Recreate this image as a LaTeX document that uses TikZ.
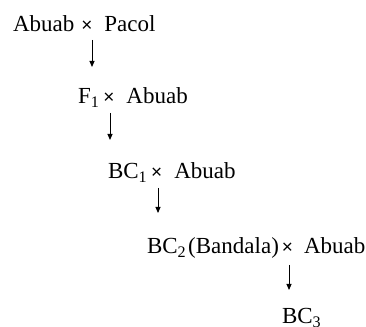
\documentclass[tikz,border=0pt]{standalone}
\usepackage{fontspec}
\setmainfont{Liberation Serif}
\newfontfamily\xsign{Liberation Sans}
\usetikzlibrary{arrows.meta}
\newcommand{\crossx}{{\xsign\fontsize{19}{22}\selectfont ×}}
\begin{document}
\begin{tikzpicture}[x=1pt,y=1pt,
  lbl/.style={anchor=base west,inner sep=0pt,outer sep=0pt,font=\fontsize{23}{27}\selectfont},
  arr/.style={line width=0.9pt,-{Triangle[length=6pt,width=5pt]}}]
\useasboundingbox (0,0) rectangle (366,326);
\node[lbl] (l1) at (13,294) {Abuab\hspace{7pt}\crossx\hspace{12pt}Pacol};
\node[lbl] (l2) at (78,222) {F\textsubscript{1}\hspace{4pt}\crossx\hspace{12pt}Abuab};
\node[lbl] (l3) at (108,147) {BC\textsubscript{1}\hspace{4pt}\crossx\hspace{12pt}Abuab};
\node[lbl] (l4) at (147,72) {BC\textsubscript{2}\hspace{2pt}(Bandala)\hspace{3pt}\crossx\hspace{11pt}Abuab};
\node[lbl] (l5) at (282,2) {BC\textsubscript{3}};
\coordinate (a1s) at (92,286); \coordinate (a1e) at (92,259);
\coordinate (a2s) at (110,213); \coordinate (a2e) at (110,186);
\coordinate (a3s) at (158,138); \coordinate (a3e) at (158,113);
\coordinate (a4s) at (289,61); \coordinate (a4e) at (289,36);
\draw[arr] (a1s) -- (a1e);
\draw[arr] (a2s) -- (a2e);
\draw[arr] (a3s) -- (a3e);
\draw[arr] (a4s) -- (a4e);
\end{tikzpicture}
\end{document}
